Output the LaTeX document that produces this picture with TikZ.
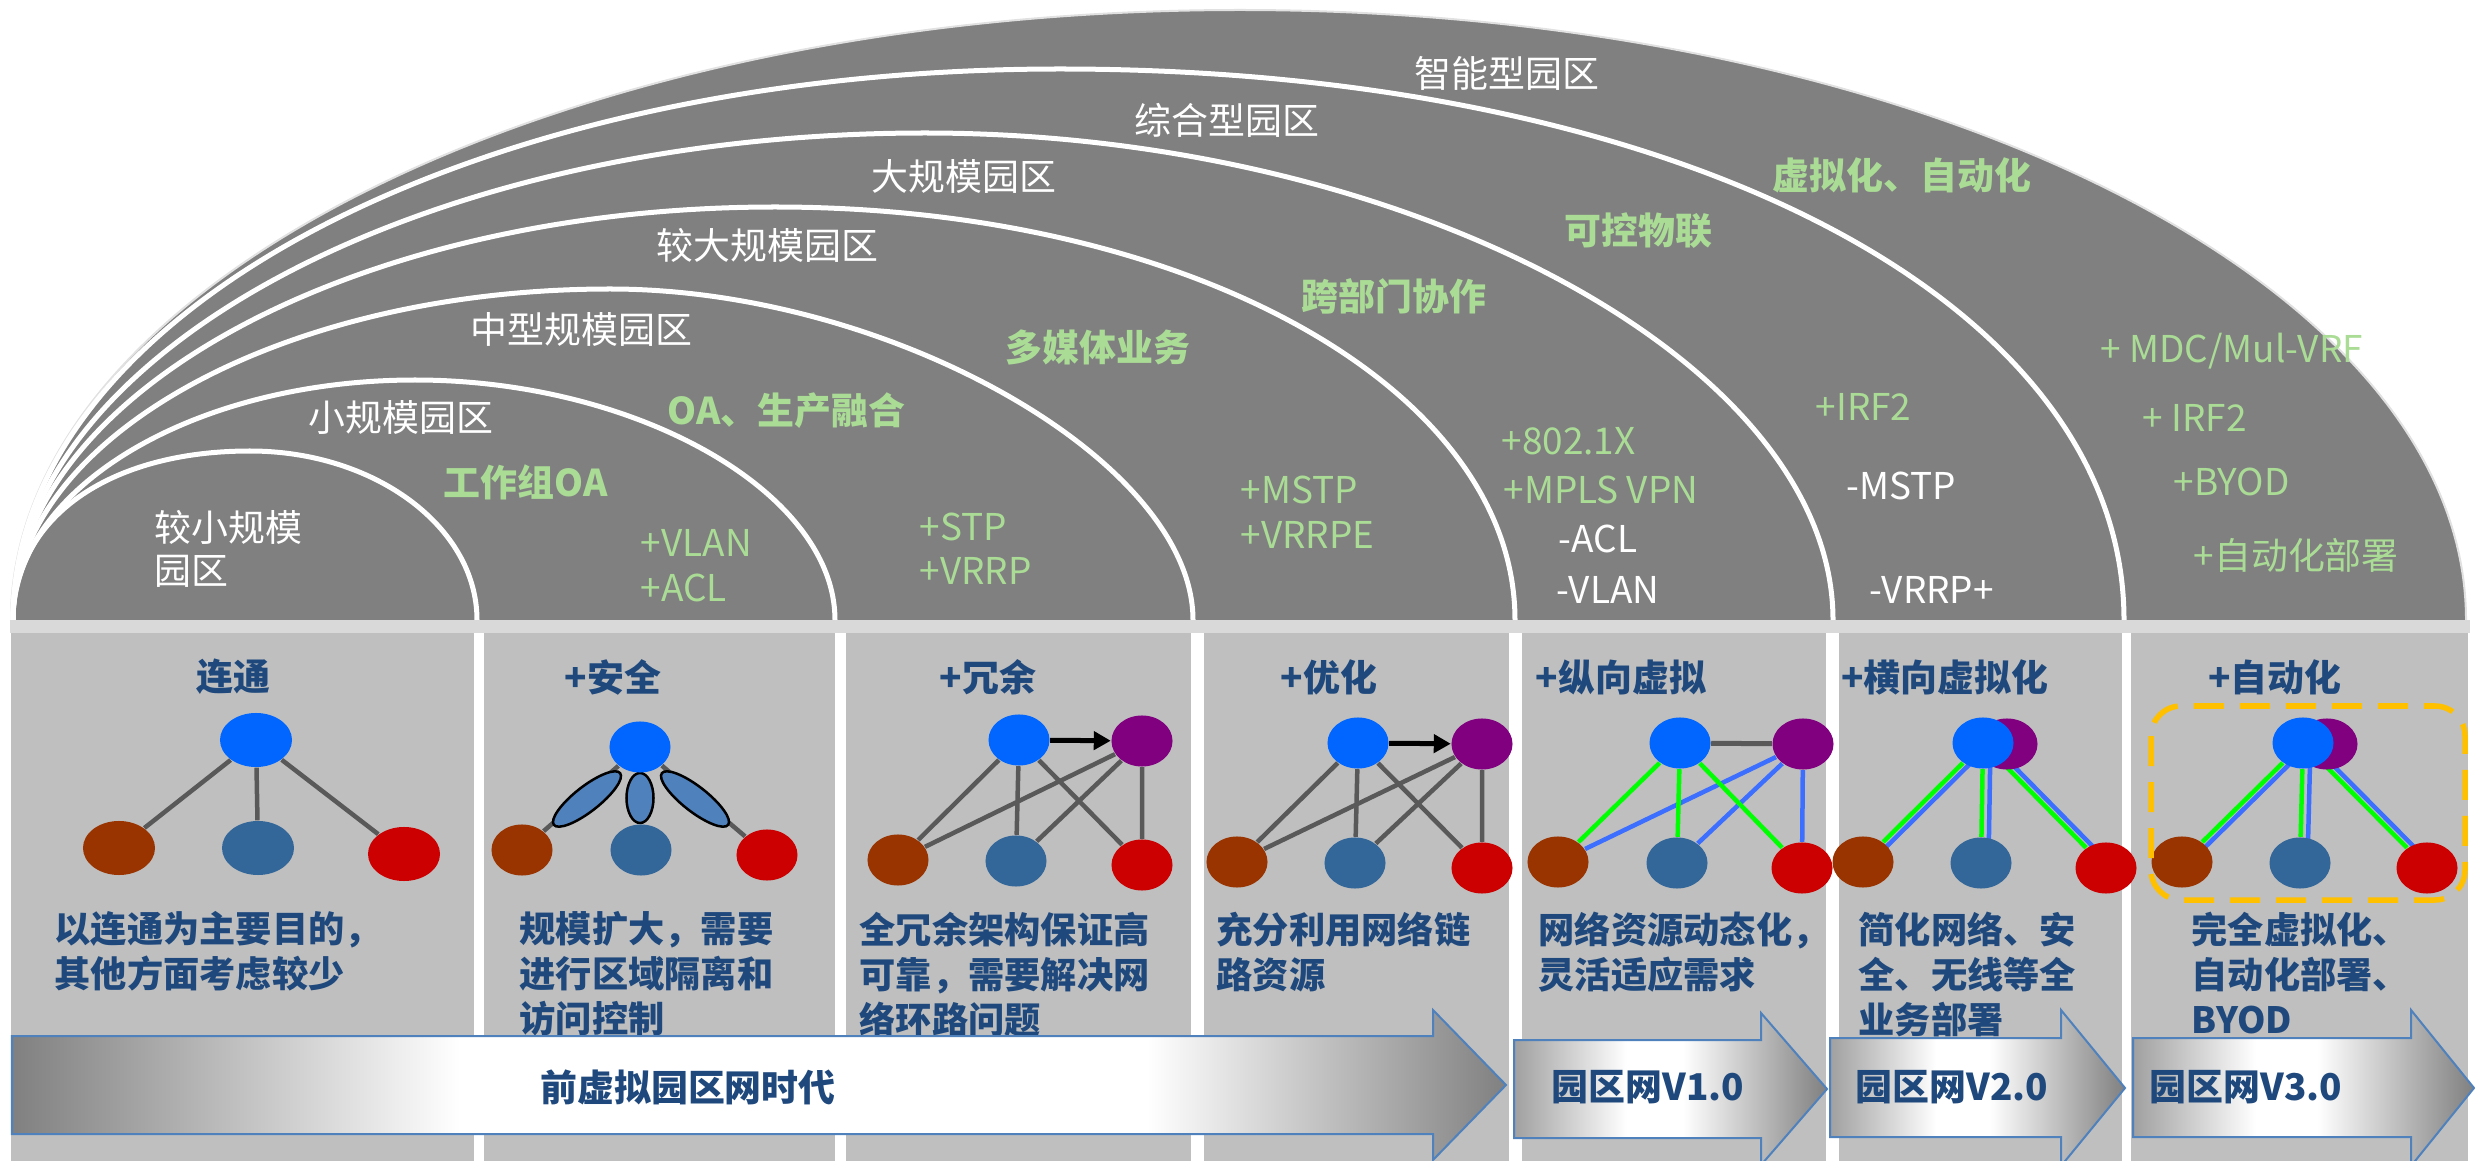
\documentclass[tikz,border=0pt]{standalone}
\usepackage{fontspec}
\setmainfont{Noto Sans CJK SC}
\usetikzlibrary{shapes.geometric,arrows.meta,calc}
\definecolor{arcgray}{RGB}{128,128,128}
\definecolor{panelgray}{RGB}{191,191,191}
\definecolor{bandgray}{RGB}{217,217,217}
\definecolor{dblue}{RGB}{31,73,125}
\definecolor{lgreen}{RGB}{170,220,150}
\definecolor{nblue}{RGB}{0,102,255}
\definecolor{npurple}{RGB}{128,0,128}
\definecolor{nbrown}{RGB}{153,51,0}
\definecolor{nsteel}{RGB}{51,102,153}
\definecolor{nred}{RGB}{204,0,0}
\definecolor{edgegray}{RGB}{89,89,89}
\definecolor{greenln}{RGB}{0,255,0}
\definecolor{blueln}{RGB}{60,110,255}
\definecolor{lockblue}{RGB}{79,129,189}
\definecolor{orangedash}{RGB}{255,192,0}
\definecolor{arrgray}{RGB}{128,128,128}
\definecolor{arrlight}{RGB}{160,160,160}
\definecolor{outblue}{RGB}{79,129,189}
\definecolor{rimgray}{RGB}{225,225,225}
\pgfdeclarehorizontalshading{bigarrow}{100bp}{color(0bp)=(arrgray); color(25bp)=(arrgray); color(40bp)=(white); color(63bp)=(white); color(75bp)=(arrgray); color(100bp)=(arrgray)}
\pgfdeclarehorizontalshading{smallarrow}{100bp}{color(0bp)=(arrlight); color(25bp)=(arrlight); color(43bp)=(white); color(52bp)=(white); color(75bp)=(arrgray); color(100bp)=(arrgray)}
\pgfdeclarelayer{panels}
\pgfdeclarelayer{edges}
\pgfsetlayers{panels,edges,main}
\newcommand\myfs{\fontsize{10.5pt}{12.8pt}\selectfont}
\newcommand\descfs{\fontsize{10.3pt}{12.8pt}\selectfont}
\newcommand\ringfill[7]{\fill[#1] (#2,620) .. controls (#2,{620-#6*(620-#5)}) and ({#4-#6*(#4-#2)},#5) .. (#4,#5) .. controls ({#4+#7*(#3-#4)},#5) and (#3,{620-#7*(620-#5)}) .. (#3,620) -- cycle;}
\newcommand\ringline[7]{\draw[#1] (#2,620) .. controls (#2,{620-#6*(620-#5)}) and ({#4-#6*(#4-#2)},#5) .. (#4,#5) .. controls ({#4+#7*(#3-#4)},#5) and (#3,{620-#7*(620-#5)}) .. (#3,620);}
\tikzset{
  ringln/.style={draw=white, line width=0.05cm},
  ringw/.style={text=white, anchor=west, inner sep=0pt, font=\myfs},
  ringg/.style={text=lgreen, anchor=west, inner sep=0pt, font=\myfs},
  ringgb/.style={text=lgreen, anchor=west, inner sep=0pt, font=\myfs\bfseries},
  ttl/.style={text=dblue, inner sep=0pt, font=\myfs\bfseries},
  desc/.style={text=dblue, anchor=north west, align=left, inner sep=0pt, font=\descfs\bfseries},
  arrtxt/.style={text=dblue, inner sep=0pt, font=\myfs\bfseries},
  nd/.style={ellipse, minimum width=0.61cm, minimum height=0.51cm, inner sep=0pt},
  ndbig/.style={ellipse, minimum width=0.72cm, minimum height=0.54cm, inner sep=0pt},
  gline/.style={draw=edgegray, line width=0.045cm},
  grline/.style={draw=greenln, line width=0.045cm},
  blline/.style={draw=blueln, line width=0.045cm},
  lock/.style={ellipse, fill=lockblue, draw=black, line width=0.025cm, inner sep=0pt},
  blkarr/.style={draw=black, line width=0.05cm, -{Triangle[length=0.17cm,width=0.18cm]}},
  panel/.style={fill=panelgray},
  bigarr/.style={shading=bigarrow, draw=outblue, line width=0.02cm},
  smallarr/.style={shading=smallarrow, draw=outblue, line width=0.02cm},
  autobox/.style={draw=orangedash, line width=0.055cm, rounded corners=0.3cm, dash pattern=on 0.3cm off 0.16cm}
}
\begin{document}
\begin{tikzpicture}[x=0.01cm,y=-0.01cm]
\useasboundingbox (0,0) rectangle (2475,1161);
% ---------- arcs ----------
\ringfill{arcgray}{11}{2466}{1240}{10}{0.5523}{0.5523}
\ringline{draw=rimgray, line width=0.02cm}{11}{2466}{1240}{10}{0.5523}{0.5523}
\ringline{ringln}{13}{2124}{1060}{69}{0.56}{0.58}
\ringline{ringln}{13}{1833}{925}{133}{0.55}{0.53}
\ringline{ringln}{13}{1515}{775}{207}{0.55}{0.56}
\ringline{ringln}{13}{1193}{610}{289}{0.55}{0.48}
\ringline{ringln}{13}{835}{415}{380}{0.55}{0.53}
\ringline{ringln}{13}{477}{250}{451}{0.6}{0.55}
% band
\fill[bandgray] (10,620) rectangle (2470,633);
% ---------- ring texts ----------
\node[ringw] (r1a) at (154,527) {较小规模};
\node[ringw] (r1b) at (154,571) {园区};
\node[ringw] (r2) at (308,417) {小规模园区};
\node[ringw] (r3) at (470,329) {中型规模园区};
\node[ringw] (r4) at (656,245) {较大规模园区};
\node[ringw] (r5) at (871,176) {大规模园区};
\node[ringw] (r6) at (1134,120) {综合型园区};
\node[ringw] (r7) at (1414,73) {智能型园区};
\node[ringgb] (f2) at (443,482) {工作组OA};
\node[ringgb] (f3) at (667,411) {OA、生产融合};
\node[ringgb] (f4) at (1005,347) {多媒体业务};
\node[ringgb] (f5) at (1301,296) {跨部门协作};
\node[ringgb] (f6) at (1564,231) {可控物联};
\node[ringgb] (f7) at (1772,175) {虚拟化、自动化};
\node[ringg] (a2a) at (640,543) {+VLAN};
\node[ringg] (a2b) at (640,588) {+ACL};
\node[ringg] (a3a) at (919,527) {+STP};
\node[ringg] (a3b) at (919,571) {+VRRP};
\node[ringg] (a4a) at (1240,490) {+MSTP};
\node[ringg] (a4b) at (1240,535) {+VRRPE};
\node[ringg] (a5a) at (1501,441) {+802.1X};
\node[ringg] (a5b) at (1503,490) {+MPLS VPN};
\node[ringw] (a5c) at (1558,539) {-ACL};
\node[ringw] (a5d) at (1556,590) {-VLAN};
\node[ringg] (a6a) at (1815,407) {+IRF2};
\node[ringw] (a6b) at (1846,486) {-MSTP};
\node[ringw] (a6c) at (1869,590) {-VRRP+};
\node[ringg] (a7a) at (2100,351) {+ MDC/Mul-VRF};
\node[ringg] (a7b) at (2142,418) {+ IRF2};
\node[ringg] (a7c) at (2173,482) {+BYOD};
\node[ringg] (a7d) at (2193,555) {+自动化部署};
% ---------- panels ----------
\begin{pgfonlayer}{panels}
\fill[panel] (11,633) rectangle (474,1161);
\fill[panel] (484,633) rectangle (835,1161);
\fill[panel] (846,633) rectangle (1191,1161);
\fill[panel] (1204,633) rectangle (1509,1161);
\fill[panel] (1522,633) rectangle (1826,1161);
\fill[panel] (1839,633) rectangle (2122,1161);
\fill[panel] (2131,633) rectangle (2468,1161);
\end{pgfonlayer}
% ---------- titles ----------
\node[ttl] (h1) at (233,677) {连通};
\node[ttl] (h2) at (613,677) {+安全};
\node[ttl] (h3) at (988,677) {+冗余};
\node[ttl] (h4) at (1329,677) {+优化};
\node[ttl] (h5) at (1621,677) {+纵向虚拟};
\node[ttl] (h6) at (1945,677) {+横向虚拟化};
\node[ttl] (h7) at (2275,677) {+自动化};
% ---------- graph nodes ----------
\node[ndbig, fill=nblue] (g1t) at (256,740) {};
\node[ndbig, fill=nbrown] (g1a) at (119,848) {};
\node[ndbig, fill=nsteel] (g1b) at (258,848) {};
\node[ndbig, fill=nred] (g1c) at (404,854) {};
\node[nd, fill=nblue] (g2t) at (640,747) {};
\node[nd, fill=nbrown] (g2a) at (522,850) {};
\node[nd, fill=nsteel] (g2b) at (641,850) {};
\node[nd, fill=nred] (g2c) at (767,855) {};
\node[nd, fill=nblue] (g3t) at (1019,740) {};
\node[nd, fill=npurple] (g3p) at (1142,741) {};
\node[nd, fill=nbrown] (g3a) at (898,860) {};
\node[nd, fill=nsteel] (g3b) at (1016,861) {};
\node[nd, fill=nred] (g3c) at (1142,865) {};
\node[nd, fill=nblue] (g4t) at (1358,743) {};
\node[nd, fill=npurple] (g4p) at (1482,744) {};
\node[nd, fill=nbrown] (g4a) at (1237,862) {};
\node[nd, fill=nsteel] (g4b) at (1355,863) {};
\node[nd, fill=nred] (g4c) at (1482,868) {};
\node[nd, fill=nblue] (g5t) at (1680,743) {};
\node[nd, fill=npurple] (g5p) at (1803,744) {};
\node[nd, fill=nbrown] (g5a) at (1558,862) {};
\node[nd, fill=nsteel] (g5b) at (1677,863) {};
\node[nd, fill=nred] (g5c) at (1802,868) {};
\node[nd, fill=npurple] (g6p) at (2007,744) {};
\node[nd, fill=nblue] (g6t) at (1983,743) {};
\node[nd, fill=nbrown] (g6a) at (1863,862) {};
\node[nd, fill=nsteel] (g6b) at (1981,863) {};
\node[nd, fill=nred] (g6c) at (2106,868) {};
\node[nd, fill=npurple] (g7p) at (2327,744) {};
\node[nd, fill=nblue] (g7t) at (2303,743) {};
\node[nd, fill=nbrown] (g7a) at (2182,862) {};
\node[nd, fill=nsteel] (g7b) at (2300,863) {};
\node[nd, fill=nred] (g7c) at (2427,868) {};
% ---------- edges ----------
\begin{pgfonlayer}{edges}
\draw[gline] (g1t) -- (g1a) (g1t) -- (g1b) (g1t) -- (g1c);
\draw[gline] (g2t) -- (g2a) (g2t) -- (g2b) (g2t) -- (g2c);
\node[lock, minimum width=0.84cm, minimum height=0.25cm, rotate=38] (k1) at (587,799) {};
\node[lock, minimum width=0.27cm, minimum height=0.5cm] (k2) at (640,798) {};
\node[lock, minimum width=0.84cm, minimum height=0.25cm, rotate=-38] (k3) at (695,799) {};
\draw[gline] (g3t) -- (g3a) (g3t) -- (g3b) (g3t) -- (g3c) (g3p) -- (g3a) (g3p) -- (g3b) (g3p) -- (g3c);
\draw[gline] (g4t) -- (g4a) (g4t) -- (g4b) (g4t) -- (g4c) (g4p) -- (g4a) (g4p) -- (g4b) (g4p) -- (g4c);
\draw[gline, line width=0.05cm] (g5t) -- (g5p);
\draw[blline] (g5p) -- (g5a) (g5p) -- (g5b) (g5p) -- (g5c);
\draw[grline] (g5t) -- (g5a) (g5t) -- (g5b) (g5t) -- (g5c);
\draw[blline] ([xshift=0.08cm]g6t.center) -- ([xshift=0.08cm]g6a.center)
  ([xshift=0.075cm]g6t.center) -- ([xshift=0.075cm]g6b.center)
  ([xshift=0.08cm]g6t.center) -- ([xshift=0.08cm]g6c.center);
\draw[grline] (g6t) -- (g6a) (g6t) -- (g6b) (g6t) -- (g6c);
\draw[blline] ([xshift=0.08cm]g7t.center) -- ([xshift=0.08cm]g7a.center)
  ([xshift=0.075cm]g7t.center) -- ([xshift=0.075cm]g7b.center)
  ([xshift=0.08cm]g7t.center) -- ([xshift=0.08cm]g7c.center);
\draw[grline] (g7t) -- (g7a) (g7t) -- (g7b) (g7t) -- (g7c);
\end{pgfonlayer}
\draw[blkarr] (g3t) -- (g3p);
\draw[blkarr] (g4t) -- (g4p);
\draw[autobox] (2151,706) rectangle (2465,900);
% ---------- descriptions ----------
\node[desc] (d1) at (54,911) {以连通为主要目的，\\其他方面考虑较少};
\node[desc] (d2) at (519,911) {规模扩大，需要\\进行区域隔离和\\访问控制};
\node[desc] (d3) at (859,911) {全冗余架构保证高\\可靠，需要解决网\\络环路问题};
\node[desc] (d4) at (1216,911) {充分利用网络链\\路资源};
\node[desc] (d5) at (1538,911) {网络资源动态化，\\灵活适应需求};
\node[desc] (d6) at (1858,911) {简化网络、安\\全、无线等全\\业务部署};
\node[desc] (d7) at (2191,911) {完全虚拟化、\\自动化部署、\\BYOD};
% ---------- bottom arrows ----------
\shadedraw[bigarr] (12,1036) -- (1433,1036) -- (1433,1010) -- (1506,1085) -- (1433,1160) -- (1433,1134) -- (12,1134) -- cycle;
\shadedraw[smallarr] (1514,1040) -- (1761,1040) -- (1761,1013) -- (1827,1089) -- (1761,1165) -- (1761,1138) -- (1514,1138) -- cycle;
\shadedraw[smallarr] (1830,1038) -- (2061,1038) -- (2061,1010) -- (2125,1088) -- (2061,1166) -- (2061,1137) -- (1830,1137) -- cycle;
\shadedraw[smallarr] (2133,1038) -- (2411,1038) -- (2411,1010) -- (2474,1088) -- (2411,1166) -- (2411,1137) -- (2133,1137) -- cycle;
\node[arrtxt] (t0) at (688,1087) {前虚拟园区网时代};
\node[arrtxt] (t1) at (1648,1087) {园区网V1.0};
\node[arrtxt] (t2) at (1952,1087) {园区网V2.0};
\node[arrtxt] (t3) at (2246,1087) {园区网V3.0};
\end{tikzpicture}
\end{document}
